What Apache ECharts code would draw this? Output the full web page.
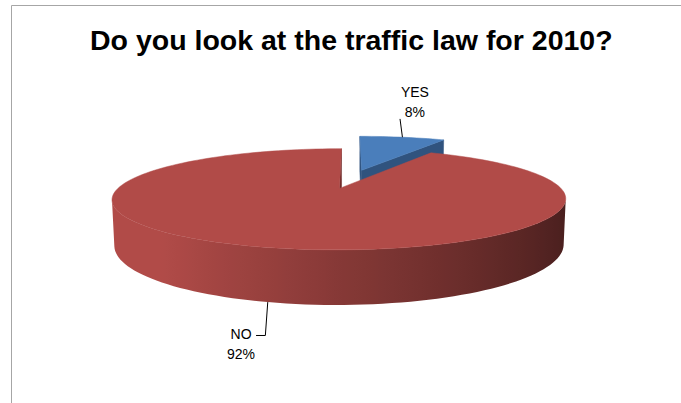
<!DOCTYPE html>
<html>
<head>
<meta charset="utf-8">
<script src="https://cdn.jsdelivr.net/npm/echarts@6/dist/echarts.min.js"></script>
<style>
  html, body { margin: 0; padding: 0; background: #ffffff; }
  #chart { width: 681px; height: 403px; }
</style>
</head>
<body>
<div id="chart"></div>
<script>
// Survey answers
const categories = ['YES', 'NO'];
const values = [8, 92];
const chartTitle = 'Do you look at the traffic law for 2010?';

// Slice colours: top face, cut face
const topColors = [[74, 126, 187], [177, 75, 72]];
const cutColors = [[48, 83, 126], [110, 42, 40]];

// Simple perspective camera for the tilted, exploded pie (world radius = 1)
const VIEW = {
  cx: 351, cy: 179, f: 1006, dist: 4.74,
  tilt: Math.asin(0.2086), depth: 0.205, explode: 0.21, step: 2
};
const COS = Math.cos(VIEW.tilt), SIN = Math.sin(VIEW.tilt);
const CAM = [0, VIEW.dist * SIN, VIEW.dist * COS];

// Leader line elbows and label block placement, relative to the slice anchor
const LABEL_LAYOUT = [
  { leader: [[-2.4, -18.3]], text: [12.5, -35.3] },
  { leader: [[-2.4, 33.4], [-11.7, 33.4]], text: [-26.7, 41.7] }
];

const total = values.reduce((a, b) => a + b, 0);
const spans = values.map(v => v / total * 360);
const starts = spans.map((s, i) => spans.slice(0, i).reduce((a, b) => a + b, 0));

function proj(X, Y, Z) {
  const d = VIEW.dist - (Z * COS + Y * SIN);
  const yc = Y * COS - Z * SIN;
  return [VIEW.cx + VIEW.f * X / d, VIEW.cy - VIEW.f * yc / d];
}
// angle in degrees, clockwise from 12 o'clock, as (X, Z) on the pie plane
function dir(a) {
  const r = a * Math.PI / 180;
  return [Math.sin(r), -Math.cos(r)];
}
function facing(nx, nz, px, py, pz) {
  return nx * (CAM[0] - px) + nz * (CAM[2] - pz) > 0;
}
function rgb(c, k) {
  return 'rgb(' + c.map(v => Math.round(v * k)).join(',') + ')';
}
function sideShade(nx) {
  const t = (nx + 1) / 2;
  return Math.max(0.42, Math.min(1, 1 - 0.72 * (t - 0.17)));
}

function renderItem(params, api) {
  const i = params.dataIndex;
  const a0 = starts[i];
  const span = api.value(0) / total * 360;
  const a1 = a0 + span;
  const mid = (a0 + a1) / 2;
  const u = dir(mid);
  const ox = u[0] * VIEW.explode, oz = u[1] * VIEW.explode;
  const H = -VIEW.depth;
  const rim = (a, y) => { const d = dir(a); return proj(ox + d[0], y, oz + d[1]); };
  const ctr = y => proj(ox, y, oz);
  const children = [];
  const base = i * 1000;

  // radial cut faces
  [[a0, -1], [a1, 1]].forEach(([a, sgn]) => {
    const r = a * Math.PI / 180;
    const nx = sgn * Math.cos(r), nz = sgn * Math.sin(r);
    const d = dir(a);
    if (facing(nx, nz, ox + d[0] / 2, H / 2, oz + d[1] / 2)) {
      children.push({
        type: 'polygon', z2: base + 1,
        shape: { points: [ctr(0), rim(a, 0), rim(a, H), ctr(H)] },
        style: { fill: rgb(cutColors[i], 1), stroke: rgb(cutColors[i], 1), lineWidth: 0.5 }
      });
    }
  });

  // outer wall: the visible arc as one shape, shaded light (left) to dark (right)
  const n = Math.max(2, Math.ceil(span / VIEW.step));
  const vis = [];
  for (let k = 0; k <= n; k++) {
    const a = a0 + span * k / n;
    const d = dir(a);
    if (facing(d[0], d[1], ox + d[0], H / 2, oz + d[1])) vis.push(a);
  }
  if (vis.length > 1) {
    const topPts = vis.map(a => rim(a, 0));
    const botPts = vis.map(a => rim(a, H)).reverse();
    const all = topPts.concat(botPts);
    const xs = all.map(p => p[0]);
    const minX = Math.min.apply(null, xs), maxX = Math.max.apply(null, xs);
    const stops = vis.map((a, k) => ({
      offset: Math.max(0, Math.min(1, (topPts[k][0] - minX) / (maxX - minX))),
      color: rgb(topColors[i], sideShade(dir(a)[0]))
    })).sort((p, q) => p.offset - q.offset);
    children.push({
      type: 'polygon', z2: base + 2,
      shape: { points: all },
      style: {
        fill: new echarts.graphic.LinearGradient(0, 0, 1, 0, stops)
      }
    });
  }

  // top face
  const pts = [ctr(0)];
  for (let k = 0; k <= n; k++) pts.push(rim(a0 + span * k / n, 0));
  children.push({
    type: 'polygon', z2: base + 3,
    shape: { points: pts },
    style: { fill: rgb(topColors[i], 1), stroke: rgb(topColors[i], 1), lineWidth: 0.5 }
  });

  // data label with leader line
  const front = u[1] > 0;
  const anchor = front ? rim(mid, H) : rim(mid, 0);
  const lay = LABEL_LAYOUT[i];
  const line = [anchor].concat(lay.leader.map(p => [anchor[0] + p[0], anchor[1] + p[1]]));
  children.push({
    type: 'polyline', z2: base + 4,
    shape: { points: line },
    style: { stroke: '#000000', lineWidth: 1, fill: null }
  });
  const pct = Math.round(api.value(0) / total * 100) + '%';
  children.push({
    type: 'text', z2: base + 5,
    x: anchor[0] + lay.text[0], y: anchor[1] + lay.text[1],
    style: {
      text: categories[i] + '\n' + pct,
      fill: '#000000',
      fontSize: 14,
      fontFamily: 'Liberation Sans, Arial, sans-serif',
      lineHeight: 20,
      align: 'center',
      verticalAlign: 'middle'
    }
  });

  return { type: 'group', children: children };
}

const chart = echarts.init(document.getElementById('chart'), null, { renderer: 'svg' });
chart.setOption({
  backgroundColor: '#ffffff',
  animation: false,
  title: {
    text: chartTitle,
    left: 85,
    top: 20,
    textStyle: {
      fontFamily: 'Liberation Sans, Arial, sans-serif',
      fontWeight: 'bold',
      fontSize: 28.5,
      color: '#000000'
    }
  },
  graphic: [{
    type: 'rect',
    shape: { x: 11.5, y: 5.5, width: 800, height: 600 },
    style: { fill: null, stroke: '#a6a6a6', lineWidth: 1 },
    silent: true
  }],
  series: [{
    type: 'custom',
    coordinateSystem: 'none',
    renderItem: renderItem,
    data: categories.map((c, i) => ({ name: c, value: [values[i]] }))
  }]
});
</script>
</body>
</html>
